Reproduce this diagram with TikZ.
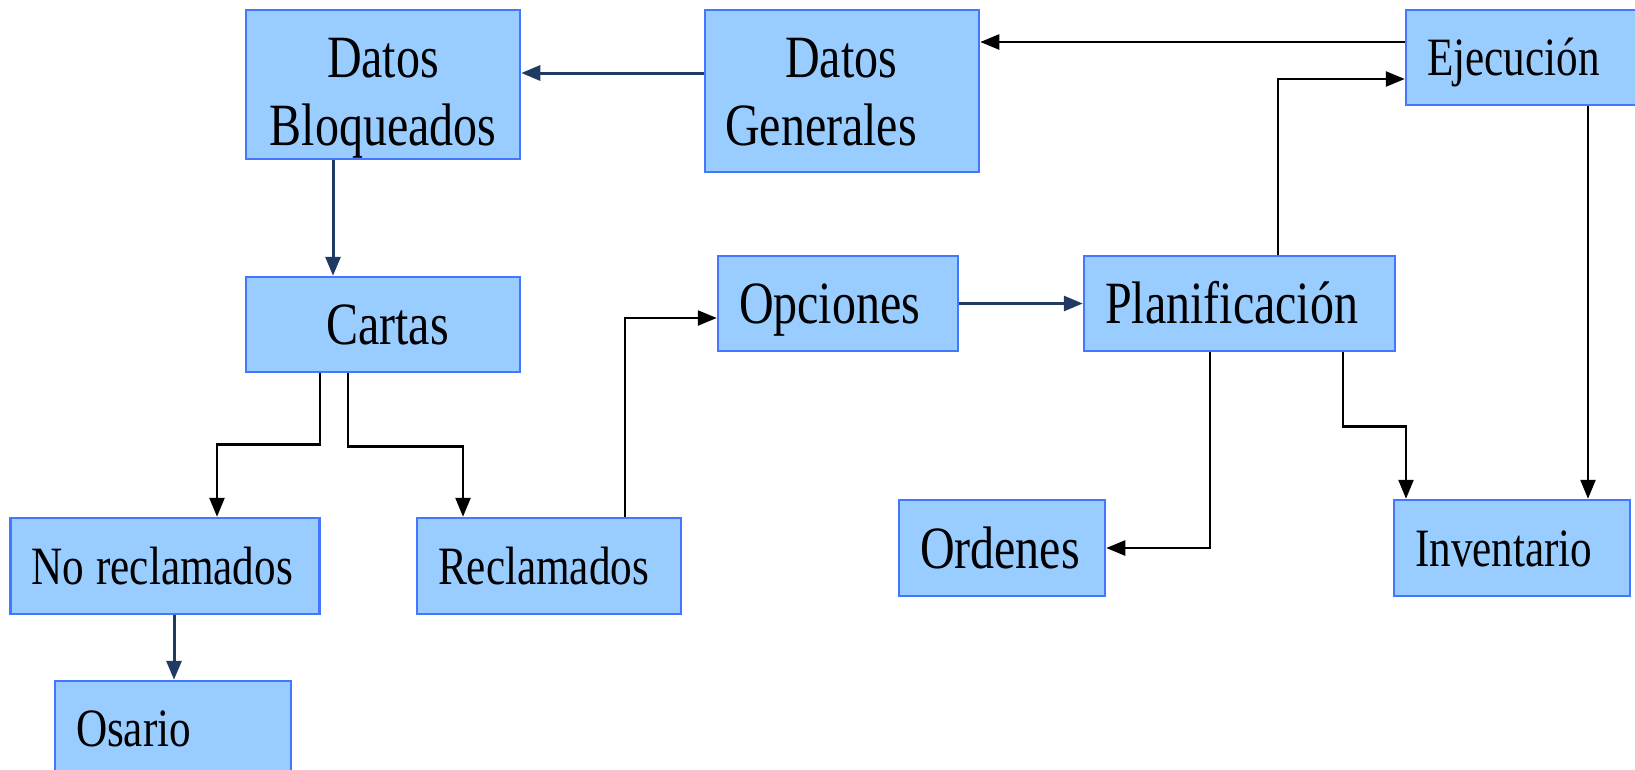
\documentclass[tikz,border=0pt]{standalone}
\usepackage{fontspec}
\usepackage{tikz}
\usetikzlibrary{arrows.meta}
\usetikzlibrary{calc}
\newfontfamily\letra[FakeStretch=0.8]{Liberation Serif}
\definecolor{relleno}{HTML}{99CCFF}
\definecolor{bordeazul}{HTML}{4477FF}
\definecolor{lineaazul}{HTML}{1F3B63}
\tikzset{
  caja/.style={draw=bordeazul, fill=relleno, line width=2.5pt, inner sep=0pt, minimum height=95pt},
  grande/.style={font=\letra\fontsize{60}{68}\selectfont, text height=40pt, text depth=0pt},
  chica/.style={font=\letra\fontsize{54}{60}\selectfont, text height=36pt, text depth=0pt},
  izq/.style={text width=#1, align=left, inner xsep=21pt},
  flecha/.style={-{Triangle[length=19pt,width=15pt]}, line width=2.5pt},
  negra/.style={flecha, draw=black},
  azul/.style={flecha, draw=lineaazul, line width=3pt},
}

\begin{document}
\begin{tikzpicture}[x=1pt,y=1pt,yscale=-1,xscale=1]
\useasboundingbox (0,0) rectangle (1635,769);
\clip (0,0) rectangle (1635,769);
% cajas
\node[caja, grande, align=center, minimum width=274pt, minimum height=149pt, text height=121pt] (bloq) at (383,84.5) {Datos\\Bloqueados};
\node[caja, grande, align=left, minimum width=274pt, minimum height=162pt, text height=108pt] (gen) at (842,91) {\hspace*{60pt}Datos\\Generales\hspace*{42pt}};
\node[caja, chica, izq=194pt] (ejec) at (1524,57.5) {Ejecución};
\node[caja, grande, align=center, minimum width=274pt] (cartas) at (383,324.5) {\hspace*{9pt}Cartas};
\node[caja, grande, izq=198pt] (opc) at (838,303.5) {Opciones};
\node[caja, grande, izq=269pt] (plan) at (1239.5,303.5) {Planificación};
\node[caja, chica, izq=267pt, minimum height=96pt] (noreclam) at (165,566) {\mbox{No\hspace{12pt}reclamados}};
\node[caja, chica, izq=222pt, minimum height=96pt] (reclam) at (549,566) {Reclamados};
\node[caja, chica, izq=194pt] (osario) at (173,728.5) {Osario};
\node[caja, grande, izq=164pt, minimum height=96pt] (ordenes) at (1002,548) {Ordenes};
\node[caja, chica, izq=194pt, minimum height=96pt] (invent) at (1512,548) {Inventario};
% flechas
\draw[negra] ($(ejec.west)+(0,-15.5)$) -- ($(gen.east)+(0,-49)$);
\draw[azul] ($(gen.west)+(0,-18)$) -- ($(bloq.east)+(0,-11.5)$);
\draw[azul] ($(bloq.south)+(-50,0)$) -- ($(cartas.north)+(-50,0)$);
\draw[negra] ($(cartas.south)+(-63,0)$) -- ++(0,71) -| ($(noreclam.north)+(52,0)$);
\draw[negra] ($(cartas.south)+(-35,0)$) -- ++(0,73) -| ($(reclam.north)+(-86,0)$);
\draw[negra] ($(reclam.north)+(76,0)$) |- ($(opc.west)+(0,14.5)$);
\draw[azul] (opc.east) -- (plan.west);
\draw[negra] ($(plan.north)+(38.5,0)$) |- ($(ejec.west)+(0,21.5)$);
\draw[negra] ($(plan.south)+(-29.5,0)$) |- (ordenes.east);
\draw[negra] ($(plan.south)+(103.5,0)$) -- ++(0,74) -| ($(invent.north)+(-106,0)$);
\draw[negra] ($(ejec.south)+(64,0)$) -- ($(invent.north)+(76,0)$);
\draw[azul] ($(noreclam.south)+(9,0)$) -- ($(osario.north)+(1,0)$);
\end{tikzpicture}
\end{document}
